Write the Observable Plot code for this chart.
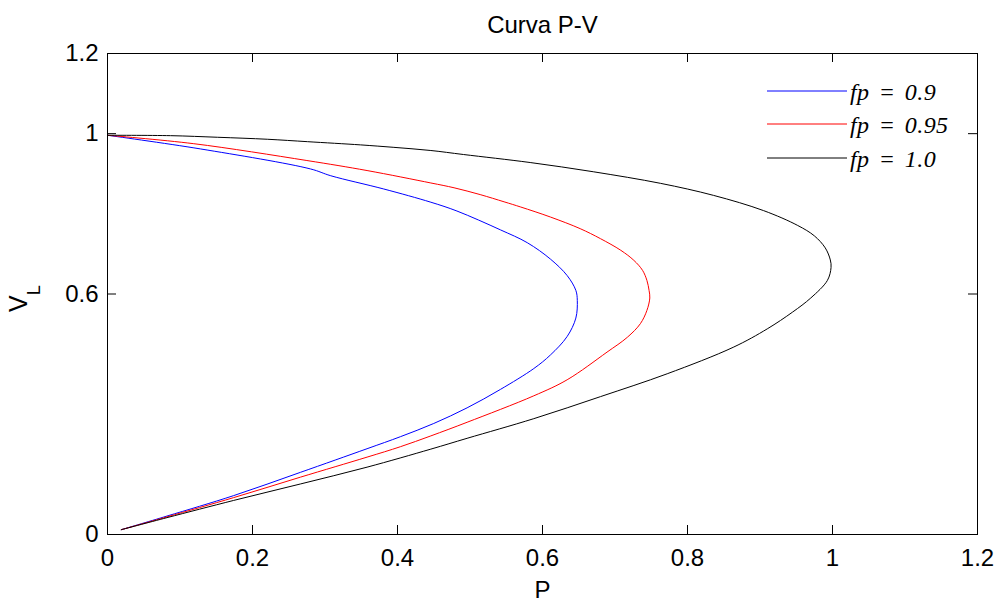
<!DOCTYPE html>
<html><head><meta charset="utf-8">
<script src="https://cdn.jsdelivr.net/npm/d3@7"></script>
<script src="https://cdn.jsdelivr.net/npm/@observablehq/plot@0.6"></script>
<style>html,body{margin:0;padding:0;background:#fff;} #chart{width:999px;height:601px;}</style>
</head><body><div id="chart"></div>
<script>
const title = "Curva P-V";
const xLabel = "P";
const yLabelMain = "V";
const yLabelSub = "L";
const seriesNames = ["fp = 0.9", "fp = 0.95", "fp = 1.0"];
const seriesColors = ["#0000ff", "#ff0000", "#000000"];
const xTicks = [0, 0.2, 0.4, 0.6, 0.8, 1, 1.2];
const yTicks = [0, 0.6, 1, 1.2];

// fp = 0.9
const p09 = [0, 0.128, 0.280, 0.308, 0.381, 0.446, 0.482, 0.542, 0.579, 0.611, 0.634, 0.646, 0.648, 0.646, 0.634, 0.611, 0.588, 0.542, 0.496, 0.450, 0.404, 0.358, 0.266, 0.174, 0.082, 0.019];
const v09 = [0.996, 0.962, 0.912, 0.895, 0.862, 0.829, 0.807, 0.760, 0.728, 0.687, 0.646, 0.609, 0.584, 0.540, 0.494, 0.448, 0.414, 0.362, 0.316, 0.277, 0.244, 0.214, 0.155, 0.097, 0.046, 0.012];
// fp = 0.95
const p095 = [0, 0.119, 0.275, 0.358, 0.446, 0.478, 0.514, 0.547, 0.570, 0.611, 0.652, 0.680, 0.708, 0.726, 0.738, 0.744, 0.747, 0.748, 0.744, 0.735, 0.717, 0.689, 0.634, 0.588, 0.496, 0.446, 0.404, 0.358, 0.266, 0.174, 0.082, 0.019];
const v095 = [0.996, 0.975, 0.933, 0.908, 0.877, 0.865, 0.848, 0.830, 0.817, 0.792, 0.763, 0.738, 0.709, 0.684, 0.659, 0.634, 0.609, 0.590, 0.559, 0.526, 0.492, 0.455, 0.386, 0.346, 0.280, 0.246, 0.219, 0.193, 0.143, 0.092, 0.044, 0.012];
// fp = 1.0
const p10 = [0, 0.087, 0.152, 0.221, 0.276, 0.349, 0.394, 0.446, 0.491, 0.583, 0.670, 0.763, 0.836, 0.905, 0.952, 0.975, 0.990, 0.997, 0.998, 0.993, 0.970, 0.945, 0.910, 0.863, 0.772, 0.680, 0.588, 0.496, 0.446, 0.358, 0.266, 0.174, 0.082, 0.019];
const v10 = [0.996, 0.995, 0.991, 0.986, 0.980, 0.972, 0.966, 0.958, 0.948, 0.928, 0.905, 0.876, 0.846, 0.808, 0.771, 0.745, 0.715, 0.685, 0.666, 0.634, 0.590, 0.555, 0.513, 0.467, 0.401, 0.344, 0.289, 0.240, 0.213, 0.168, 0.126, 0.085, 0.042, 0.012];

const seriesP = [p09, p095, p10];
const seriesV = [v09, v095, v10];
const rows = [];
seriesNames.forEach((name, i) => {
  seriesP[i].forEach((p, j) => rows.push({series: name, P: p, V: seriesV[i][j]}));
});

const W = 999, H = 601, mL = 107, mR = 22, mT = 53, mB = 67;
const fw = W - mL - mR, fh = H - mT - mB, tk = 9;

const chart = Plot.plot({
  width: W, height: H,
  marginLeft: mL, marginRight: mR, marginTop: mT, marginBottom: mB,
  style: {fontFamily: "'Liberation Sans', Arial, sans-serif", fontSize: "24px", color: "#000", background: "#fff"},
  x: {domain: [0, 1.2]},
  y: {domain: [0, 1.2]},
  color: {domain: seriesNames, range: seriesColors},
  marks: [
    Plot.line(rows, {x: "P", y: "V", z: "series", stroke: "series", strokeWidth: 1, curve: "catmull-rom"}),
    Plot.tickX(xTicks, {x: d => d, insetTop: fh - tk, stroke: "#000"}),
    Plot.tickX(xTicks, {x: d => d, insetBottom: fh - tk, stroke: "#000"}),
    Plot.tickY(yTicks, {y: d => d, insetRight: fw - tk, stroke: "#000"}),
    Plot.tickY(yTicks, {y: d => d, insetLeft: fw - tk, stroke: "#000"}),
    Plot.frame({stroke: "#000", strokeWidth: 1}),
    Plot.axisX({ticks: xTicks, tickSize: 0, tickPadding: 14, tickFormat: d => String(d), label: null, fontSize: 24}),
    Plot.axisY({ticks: yTicks, tickSize: 0, tickPadding: 9, tickFormat: d => String(d), label: null, fontSize: 24}),
    Plot.text([title], {text: d => d, frameAnchor: "top", lineAnchor: "bottom", dy: -21, fontSize: 24}),
    Plot.text([xLabel], {text: d => d, frameAnchor: "bottom", lineAnchor: "bottom", dy: 63, fontSize: 24})
  ]
});
document.getElementById("chart").appendChild(chart);

const svg = d3.select(chart);
// y label with subscript
const yl = svg.append("text")
  .attr("transform", "translate(27,312) rotate(-90)")
  .attr("text-anchor", "start")
  .attr("font-family", "'Liberation Sans', Arial, sans-serif")
  .attr("fill", "#000");
yl.append("tspan").attr("font-size", 25).text(yLabelMain);
yl.append("tspan").attr("font-size", 18).attr("dy", 13).text(yLabelSub);

// legend
const lg = svg.append("g");
const legendY = [91, 124, 158];
seriesNames.forEach((name, i) => {
  lg.append("line").attr("x1", 767).attr("x2", 847).attr("y1", legendY[i]).attr("y2", legendY[i])
    .attr("stroke", seriesColors[i]).attr("stroke-width", 1);
  lg.append("text").attr("x", 850).attr("y", legendY[i] + 9)
    .attr("text-anchor", "start")
    .attr("font-family", "'Liberation Serif', 'Times New Roman', serif")
    .attr("font-style", "italic").attr("font-size", 24)
    .style("white-space", "pre").style("word-spacing", "3px").style("letter-spacing", "0.4px")
    .attr("fill", "#000").text(name);
});
</script>
</body></html>
